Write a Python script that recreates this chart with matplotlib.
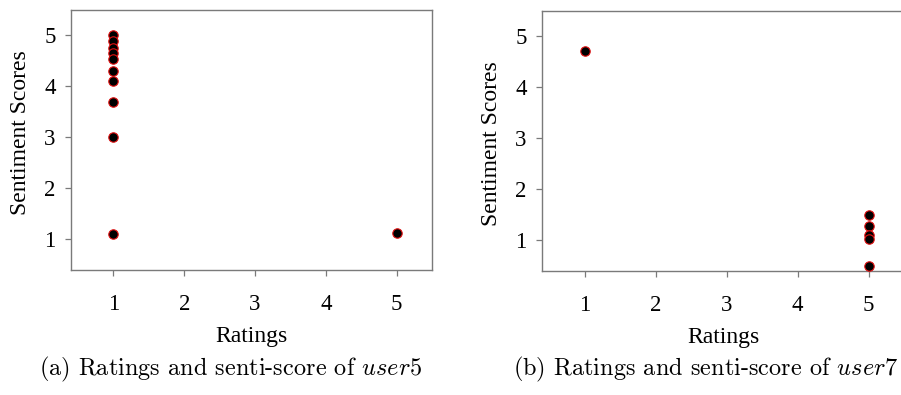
import matplotlib
matplotlib.use("Agg")
import matplotlib.pyplot as plt

# Ratings vs sentiment scores for two users
user5_ratings = [1, 1, 1, 1, 1, 1, 1, 1, 1, 1, 5]
user5_scores = [5.0, 4.9, 4.75, 4.65, 4.53, 4.3, 4.1, 3.7, 3.0, 1.1, 1.12]

user7_ratings = [1, 5, 5, 5, 5, 5]
user7_scores = [4.71, 1.5, 1.29, 1.11, 1.03, 0.5]

x_ticks = [1, 2, 3, 4, 5]
y_ticks = [1, 2, 3, 4, 5]

captions = [r"(a) Ratings and senti-score of $user5$",
            r"(b) Ratings and senti-score of $user7$"]

plt.rcParams["mathtext.fontset"] = "cm"

W, H = 901, 395
fig = plt.figure(figsize=(W / 100, H / 100), dpi=100)

axes_px = [(71, 10, 361, 260), (542, 11, 362, 260)]
data = [(user5_ratings, user5_scores), (user7_ratings, user7_scores)]
caption_x = [230, 706]
ylabel_y = [0.53, 0.49]

spine_col = "#7a7a7a"
serif = "Liberation Serif"

for (x0, top, w, h), (xs, ys), cap, cx, ly in zip(axes_px, data, captions,
                                                   caption_x, ylabel_y):
    ax = fig.add_axes([x0 / W, (H - top - h) / H, w / W, h / H])
    ax.scatter(xs, ys, s=46, c="black", edgecolors="#e01010",
               linewidths=0.8, zorder=3)
    ax.set_xlim(0.4, 5.5)
    ax.set_ylim(0.4, 5.5)
    ax.set_xticks(x_ticks)
    ax.set_yticks(y_ticks)
    for sp in ax.spines.values():
        sp.set_color(spine_col)
        sp.set_linewidth(1.0)
    ax.tick_params(axis="both", direction="out", length=4, width=0.9,
                   color=spine_col, labelsize=16.5)
    ax.tick_params(axis="x", pad=13)
    ax.tick_params(axis="y", pad=7)
    for lab in ax.get_xticklabels() + ax.get_yticklabels():
        lab.set_fontfamily(serif)
    ax.set_xlabel("Ratings", fontsize=17, fontfamily=serif, labelpad=8)
    ax.set_ylabel("Sentiment Scores", fontsize=17, fontfamily=serif)
    ax.yaxis.set_label_coords(-40 / w, ly)
    fig.text(cx / W, 1 - 375 / H, cap, ha="center", va="baseline",
             fontsize=17.5, fontfamily="cmr10")

fig.savefig("out.png", dpi=100)
